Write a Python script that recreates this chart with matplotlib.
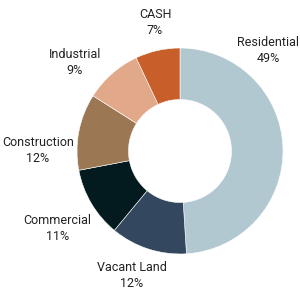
import matplotlib
matplotlib.use("Agg")
import matplotlib.pyplot as plt

labels = ["Residential", "Vacant Land", "Commercial", "Construction", "Industrial", "CASH"]
values = [49, 12, 11, 12, 9, 7]
colors = ["#b2c8d0", "#33475f", "#031b1f", "#9b7753", "#e2a88a", "#c85f2b"]
# label centres, in units of the outer radius
label_xy = [(0.854, 0.98), (-0.466, -1.204), (-1.19, -0.757),
            (-1.38, 0.0), (-1.02, 0.864), (-0.243, 1.243)]

plt.rcParams['font.family'] = ['Roboto', 'DejaVu Sans']

fig = plt.figure(figsize=(3, 3), dpi=100)
ax = fig.add_axes([77/300, 46/300, 206/300, 206/300])
ax.pie(values, colors=colors, startangle=90, counterclock=False,
       wedgeprops=dict(width=0.5, edgecolor='white', linewidth=0.4))
ax.set_xlim(-1, 1)
ax.set_ylim(-1, 1)
ax.set_aspect('equal')

for lab, v, (x, y) in zip(labels, values, label_xy):
    ax.text(x, y, f"{lab}\n{v}%", ha='center', va='center', fontsize=9,
            color='#222222', linespacing=1.3, clip_on=False)

fig.savefig("out.png", dpi=100)
